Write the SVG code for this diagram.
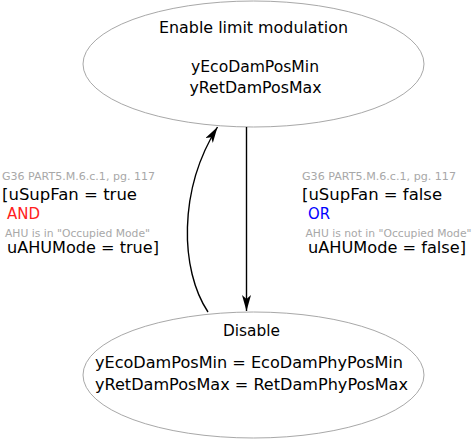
<svg xmlns="http://www.w3.org/2000/svg" width="473" height="440" viewBox="0 0 473 440">
<defs>
<style>
.t{font-family:"DejaVu Sans",sans-serif;font-size:16px;fill:#000}
.c{text-anchor:middle}
.s{font-family:"DejaVu Sans",sans-serif;font-size:10px;fill:#a8a8a8}
.node{fill:#fff;stroke:#a8a8a8;stroke-width:1}
.edge{fill:none;stroke:#000;stroke-width:1.4}
</style>
<marker id="ah2" markerWidth="16" markerHeight="9" refX="16" refY="4.5" orient="auto" markerUnits="userSpaceOnUse" viewBox="0 0 16 9">
<path d="M0,0 L16,4.5 L0,9 L4,4.5 Z" fill="#000"/>
</marker>
</defs>
<rect width="473" height="440" fill="#fff"/>
<g id="enable">
<ellipse class="node" cx="253.5" cy="64" rx="170.5" ry="63"/>
<text class="t" x="159" y="33" textLength="189" lengthAdjust="spacingAndGlyphs">Enable limit modulation</text>
<text class="t" x="191" y="72" textLength="128" lengthAdjust="spacingAndGlyphs">yEcoDamPosMin</text>
<text class="t" x="189.5" y="93" textLength="132" lengthAdjust="spacingAndGlyphs">yRetDamPosMax</text>
</g>
<g id="disable">
<ellipse class="node" cx="253.5" cy="375" rx="170.5" ry="63"/>
<text class="t" x="223" y="335.5" textLength="57" lengthAdjust="spacingAndGlyphs">Disable</text>
<text class="t" x="95" y="368" textLength="308" lengthAdjust="spacingAndGlyphs">yEcoDamPosMin = EcoDamPhyPosMin</text>
<text class="t" x="95" y="389.5" textLength="313" lengthAdjust="spacingAndGlyphs">yRetDamPosMax = RetDamPhyPosMax</text>
</g>
<g id="connectors">
<path class="edge" d="M246.5,127 L246.5,311" marker-end="url(#ah2)"/>
<path class="edge" d="M208,312 C180,270 178,190 217.5,127" marker-end="url(#ah2)"/>
</g>
<g id="label-left">
<text class="s" x="2" y="180" textLength="153" lengthAdjust="spacingAndGlyphs">G36 PART5.M.6.c.1, pg. 117</text>
<text class="t" x="2" y="200" textLength="135" lengthAdjust="spacingAndGlyphs">[uSupFan = true</text>
<text class="t" x="7" y="219" textLength="33" lengthAdjust="spacingAndGlyphs" style="fill:#ff2020">AND</text>
<text class="s" x="5" y="236.5" textLength="145" lengthAdjust="spacingAndGlyphs">AHU is in "Occupied Mode"</text>
<text class="t" x="7" y="253" textLength="152" lengthAdjust="spacingAndGlyphs">uAHUMode = true]</text>
</g>
<g id="label-right">
<text class="s" x="302" y="179.5" textLength="154" lengthAdjust="spacingAndGlyphs">G36 PART5.M.6.c.1, pg. 117</text>
<text class="t" x="302" y="199.5" textLength="140" lengthAdjust="spacingAndGlyphs">[uSupFan = false</text>
<text class="t" x="308" y="218.5" textLength="22" lengthAdjust="spacingAndGlyphs" style="fill:#0000ff">OR</text>
<text class="s" x="305.5" y="236.5" textLength="166" lengthAdjust="spacingAndGlyphs">AHU is not in "Occupied Mode"</text>
<text class="t" x="308" y="253" textLength="158" lengthAdjust="spacingAndGlyphs">uAHUMode = false]</text>
</g>
</svg>
